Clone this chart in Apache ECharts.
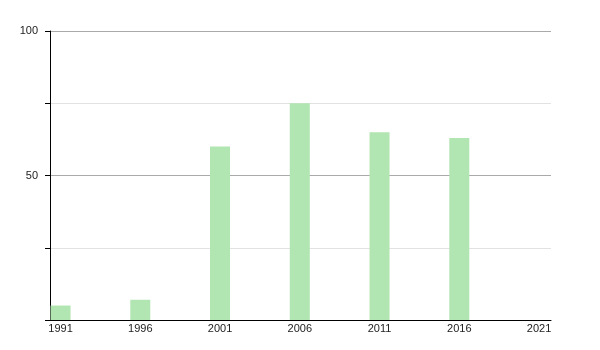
<!DOCTYPE html>
<html>
<head>
<meta charset="utf-8">
<script src="https://cdn.jsdelivr.net/npm/echarts@6/dist/echarts.min.js"></script>
<style>html,body{margin:0;padding:0;background:#fff}#c{width:600px;height:350px}</style>
</head>
<body>
<div id="c"></div>
<script>
const years = [1991, 1996, 2001, 2006, 2011, 2016];
const values = [5, 7, 60, 75, 65, 63];
const xTickLabels = [1991, 1996, 2001, 2006, 2011, 2016, 2021];
const yLabelled = [50, 100];

const chart = echarts.init(document.getElementById('c'), null, {renderer: 'canvas'});
chart.setOption({
  animation: false,
  backgroundColor: '#fff',
  grid: {left: 50, right: 49, top: 31, bottom: 30, containLabel: false},
  xAxis: {
    type: 'value',
    min: 1990.34,
    max: 2021.75,
    axisLine: {show: true, onZero: false, lineStyle: {color: '#000', width: 1}},
    axisTick: {show: false},
    splitLine: {show: false},
    axisLabel: {
      customValues: xTickLabels,
      color: '#222',
      fontFamily: 'Liberation Sans, Arial, sans-serif',
      fontSize: 11,
      margin: 3,
      formatter: v => String(v)
    }
  },
  yAxis: {
    type: 'value',
    min: 0,
    max: 100,
    interval: 25,
    axisLine: {show: true, lineStyle: {color: '#000', width: 1}},
    axisTick: {show: true, length: 5, lineStyle: {color: '#000'}},
    splitLine: {show: true, lineStyle: {color: ['#aaa', '#e2e2e2'], width: 1}},
    axisLabel: {
      color: '#222',
      fontFamily: 'Liberation Sans, Arial, sans-serif',
      fontSize: 11,
      margin: 12,
      formatter: v => yLabelled.includes(v) ? String(v) : ''
    }
  },
  series: [{
    type: 'bar',
    barWidth: 20,
    itemStyle: {color: '#b1e5b1'},
    data: years.map((y, i) => [y, values[i]])
  }]
});
</script>
</body>
</html>
